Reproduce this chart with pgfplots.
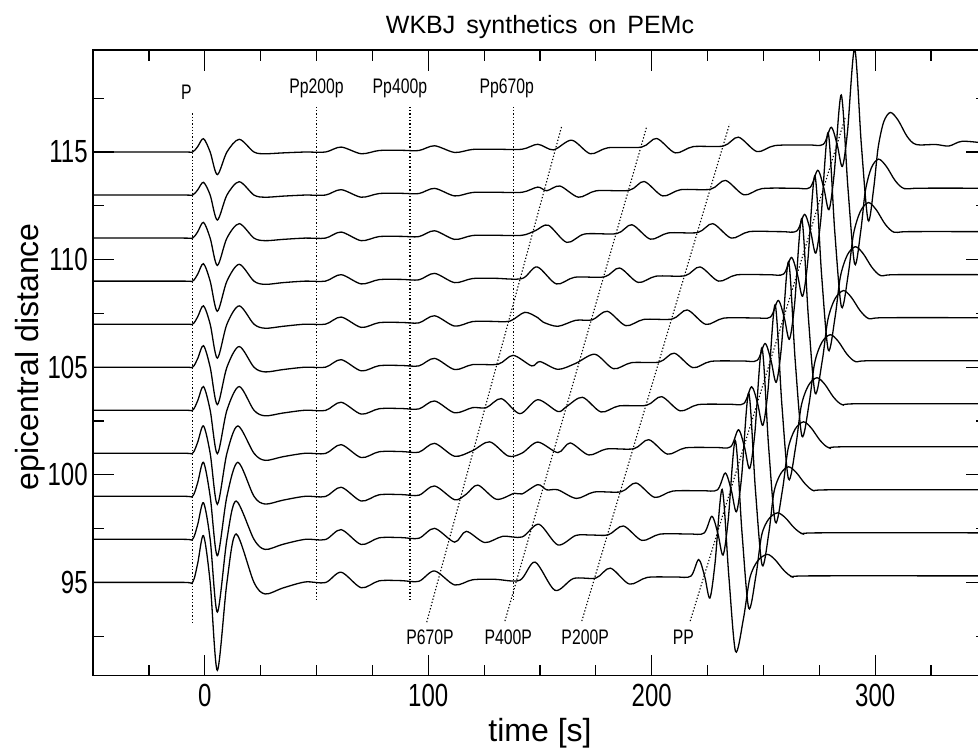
\documentclass[border=0pt]{standalone}
\usepackage{fontspec}
\setmainfont{Liberation Sans}
\newfontfamily\numfont{Liberation Sans}[FakeStretch=0.75]
\usepackage{pgfplots}
\pgfplotsset{compat=1.18}
\begin{document}
\begin{tikzpicture}
\begin{axis}[
  scale only axis, width=446.6pt, height=312.5pt,
  xmin=-50, xmax=350, ymin=90.67, ymax=119.74,
  clip mode=individual,
  xtick={0,100,200,300},
  minor xtick={-25,25,50,75,125,150,175,225,250,275,325},
  ytick={95,100,105,110,115},
  minor ytick={92.5,97.5,102.5,107.5,112.5,117.5},
  major tick length=10.5pt, minor tick length=5.5pt,
  tick style={black, line width=0.6pt},
  axis line style={line width=0.65pt},
  /pgf/number format/assume math mode=true,
  ticklabel style={font=\numfont\fontsize{16}{16}\selectfont},
  xticklabel style={anchor=center, yshift=-10pt},
  yticklabel style={anchor=east, inner sep=0pt, xshift=-2.5pt},
  every axis plot/.append style={black, line width=0.65pt},
]
% marker lines
\addplot[densely dotted, line width=0.55pt] coordinates {(-5.5,116.8) (-5.5,93.1)};
\addplot[densely dotted, line width=0.55pt] coordinates {(50,117.1) (50,94.1)};
\addplot[densely dotted, line width=0.55pt] coordinates {(91.8,117.1) (91.8,94.1)};
\addplot[densely dotted, line width=0.55pt] coordinates {(138,117.1) (138,94.1)};
\addplot[densely dotted, line width=0.55pt] coordinates {(99.3,93.15) (159.7,116.2)};
\addplot[densely dotted, line width=0.55pt] coordinates {(134.3,93.2) (197.8,116.2)};
\addplot[densely dotted, line width=0.55pt] coordinates {(168.7,93.2) (234.8,116.3)};
\addplot[densely dotted, line width=0.55pt] coordinates {(217.2,93.2) (286.6,116.6)};
% traces
\addplot[smooth, tension=0.5] coordinates {(-50,95) (-10,95) (-5.5,95) (-3.2,95.87) (-0.6,97.17) (2.4,95) (5.6,90.91) (9.9,95) (14,97.25) (22,95) (27,94.46) (35,94.74) (45,95.02) (54,94.99) (61,95.47) (70,94.75) (78,95.07) (88,95.08) (95.8,95.05) (102.8,95.53) (111.8,94.88) (119.8,95.12) (130,95.14) (141,95.10) (147.8,95.94) (156.7,94.63) (165,95.18) (175,95.20) (181.5,95.66) (190,94.92) (198,95.23) (210.5,95.25) (217.5,95.29) (221,96.06) (223.7,95.27) (226,94.27) (228.3,95.87) (231.5,99.32) (234.5,95.28) (237.5,91.79) (241,93.29) (243.9,95.2) (247.4,96.0) (251.7,96.3) (255.2,96.05) (259.2,95.55) (263.2,95.25) (270,95.3) (350,95.3)};
\addplot[smooth, tension=0.5] coordinates {(-50,97) (-10,97) (-5.5,97) (-3.2,97.68) (-0.6,98.7) (2.4,97) (5.6,93.62) (9.9,97) (14,98.78) (22,97) (27,96.53) (35,96.77) (45,97) (54,96.99) (61,97.45) (70,96.76) (78,97.07) (88,97.08) (95.8,97.05) (102.8,97.51) (111.8,96.87) (117,97.37) (125.3,96.85) (133.3,97.14) (142,97.11) (149.5,97.7) (158,96.74) (166,97.18) (173,97.2) (180.6,97.21) (187.3,97.62) (195.6,96.95) (203.6,97.24) (216.4,97.25) (223.4,97.29) (226.9,98.07) (229.6,97.27) (231.9,96.27) (234.2,97.88) (237.4,101.59) (240.4,97.29) (243.4,93.8) (246.6,95.3) (249.2,97.2) (252.4,97.95) (256.3,98.23) (259.8,98.0) (263.8,97.53) (267.8,97.25) (274.3,97.3) (350,97.3)};
\addplot[smooth, tension=0.5] coordinates {(-50,99) (-10,99) (-5.5,99) (-3.2,99.63) (-0.6,100.58) (2.4,99) (5.6,96.24) (9.9,99) (14.8,100.58) (22,99) (27,98.64) (35,98.82) (45,99) (54,98.99) (61,99.42) (70,98.78) (78,99.07) (88,99.08) (95.8,99.05) (102.8,99.48) (111.8,98.84) (117,99.1) (122.2,99.52) (130.5,98.86) (138.5,99.14) (142,99.11) (149,99.54) (153,99.3) (158,99.3) (166.3,98.9) (174.3,99.2) (186.3,99.21) (193,99.62) (201.3,98.95) (209.3,99.24) (222.4,99.26) (229.4,99.3) (232.9,100.08) (235.6,99.28) (237.9,98.28) (240.2,99.89) (243.4,103.79) (246.4,99.29) (249.4,95.8) (252.4,97.3) (254.7,99.2) (257.7,100.05) (261.2,100.37) (264.7,100.1) (268.7,99.57) (272.7,99.25) (279.2,99.3) (350,99.3)};
\addplot[smooth, tension=0.5] coordinates {(-50,101) (-10,101) (-5.5,101) (-3.2,101.51) (-0.6,102.27) (2.4,101) (5.6,98.63) (9.9,101) (14.8,102.27) (22,101) (27,100.67) (35,100.84) (45,101) (54,100.99) (61,101.4) (70,100.8) (78,101.07) (88,101.08) (95.8,101.05) (102.8,101.46) (111.8,100.86) (119.8,101.12) (127.5,101.53) (135.8,100.87) (142,101.01) (149,101.52) (158,101.03) (163.5,101.48) (171.8,100.92) (179.8,101.2) (192,101.21) (198.7,101.63) (207,100.96) (215,101.25) (228.3,101.27) (235.3,101.3) (238.8,102.09) (241.5,101.29) (243.8,100.29) (246.1,101.9) (249.3,105.9) (252.3,101.3) (255.3,97.8) (258.5,99.3) (261,101.2) (264.1,102.11) (267.9,102.46) (271.4,102.17) (275.4,101.59) (279.4,101.25) (286,101.3) (350,101.3)};
\addplot[smooth, tension=0.5] coordinates {(-50,103) (-10,103) (-5.5,103) (-3.2,103.44) (-0.6,104.1) (2.4,103) (5.6,100.98) (9.9,103) (15.4,104.1) (22,103) (27,102.74) (35,102.87) (45,103) (54,102.99) (61,103.37) (70,102.82) (78,103.07) (88,103.08) (95.8,103.06) (102.8,103.43) (111.8,102.88) (119.8,103.12) (126,103.12) (132.7,103.54) (141,102.84) (149,103.49) (158,102.94) (162,103.18) (169,103.6) (177.3,102.92) (185.3,103.2) (197.7,103.23) (204.4,103.63) (212.7,102.97) (220.7,103.26) (234.2,103.28) (241.2,103.31) (244.7,104.09) (247.4,103.3) (249.7,102.3) (252,103.9) (255.2,107.9) (258.2,103.3) (261.2,99.8) (264.4,101.3) (266.9,103.2) (270.1,104.15) (273.9,104.51) (277.4,104.21) (281.4,103.6) (285.4,103.25) (292,103.3) (350,103.3)};
\addplot[smooth, tension=0.5] coordinates {(-50,105) (-10,105) (-5.5,105) (-3.2,105.4) (-0.6,106) (2.4,105) (5.6,103.26) (9.9,105) (15.4,105.96) (22,105) (27,104.78) (35,104.89) (45,105) (54,105) (61,105.35) (70,104.83) (78,105.07) (88,105.08) (95.8,105.06) (102.8,105.41) (111.8,104.89) (119.8,105.12) (131.3,105.14) (138,105.55) (146.3,105.06) (150,105.26) (158,104.9) (166,105.18) (174.6,105.6) (182.9,104.93) (190.9,105.21) (203.4,105.24) (210.1,105.65) (218.4,104.98) (226.4,105.27) (240.2,105.29) (247.2,105.32) (250.7,106.1) (253.4,105.3) (255.7,104.3) (258,105.9) (261.2,109.9) (264.2,105.3) (267.2,101.8) (270.4,103.3) (272.9,105.2) (276.1,106.15) (279.9,106.51) (283.4,106.21) (287.4,105.6) (291.4,105.25) (298,105.3) (350,105.3)};
\addplot[smooth, tension=0.5] coordinates {(-50,107) (-10,107) (-5.5,107) (-3.2,107.34) (-0.6,107.85) (2.4,107) (5.6,105.42) (9.9,107) (15.4,107.85) (22,107) (27,106.81) (35,106.9) (45,107) (54,107) (61,107.33) (70,106.85) (78,107.07) (88,107.08) (95.8,107.06) (102.8,107.39) (111.8,106.91) (119.8,107.12) (128,107.13) (136.5,107.14) (143.2,107.55) (149,107.3) (151.5,107.09) (158,106.9) (166,107.18) (173.4,107.2) (180.1,107.6) (188.4,106.93) (196.4,107.22) (209.2,107.24) (215.9,107.66) (224.2,106.99) (232.2,107.28) (246.1,107.29) (253.1,107.33) (256.6,108.1) (259.3,107.3) (261.6,106.3) (263.9,107.9) (267.1,111.9) (270.1,107.3) (273.1,103.8) (276.3,105.3) (278.8,107.2) (282,108.18) (285.8,108.56) (289.3,108.25) (293.3,107.62) (297.3,107.25) (304,107.3) (350,107.3)};
\addplot[smooth, tension=0.5] coordinates {(-50,109) (-10,109) (-5.5,109) (-3.2,109.32) (-0.6,109.81) (2.4,109) (5.6,107.6) (9.9,109) (15.4,109.78) (22,109) (27,108.85) (35,108.93) (45,109) (54,109) (61,109.3) (70,108.87) (78,109.07) (88,109.08) (95.8,109.06) (102.8,109.36) (111.8,108.93) (119.8,109.12) (130,109.13) (142,109.12) (148.7,109.66) (157.3,108.87) (165.5,109.18) (178.9,109.2) (185.6,109.61) (193.9,108.94) (201.9,109.23) (214.9,109.25) (221.6,109.66) (229.9,109) (237.9,109.29) (252,109.3) (259,109.33) (262.5,110.1) (265.2,109.3) (267.5,108.3) (269.8,109.9) (273,113.9) (276,109.3) (279,105.8) (282,107.3) (284.4,109.2) (287.5,110.21) (291.1,110.6) (294.6,110.28) (298.6,109.63) (302.6,109.25) (309,109.3) (350,109.3)};
\addplot[smooth, tension=0.5] coordinates {(-50,111) (-10,111) (-5.5,111) (-3.2,111.29) (-0.6,111.73) (2.4,111) (5.6,109.73) (9.9,111) (15.4,111.67) (22,111) (27,110.88) (35,110.94) (45,111) (54,111) (61,111.28) (70,110.88) (78,111.07) (88,111.08) (95.8,111.07) (102.8,111.34) (111.8,110.94) (119.8,111.12) (130,111.13) (142,111.13) (148,111.35) (153.7,111.6) (162,110.8) (170,111.19) (184.4,111.21) (191.1,111.62) (199.4,110.95) (207.4,111.24) (220.6,111.26) (227.3,111.67) (235.6,111.0) (243.6,111.3) (257.9,111.3) (264.9,111.33) (268.4,112.1) (271.1,111.3) (273.4,110.3) (275.7,111.9) (278.9,115.9) (281.9,111.3) (284.9,107.8) (287.9,109.3) (290.3,111.2) (293.4,112.25) (297,112.65) (300.5,112.31) (304.5,111.64) (308.5,111.27) (315,111.3) (350,111.3)};
\addplot[smooth, tension=0.5] coordinates {(-50,113) (-10,113) (-5.5,113) (-3.2,113.24) (-0.6,113.59) (2.4,113) (5.6,111.84) (9.9,113) (15.4,113.62) (22,113) (27,112.9) (35,112.95) (45,113) (54,113) (61,113.25) (70,112.9) (78,113.07) (88,113.08) (95.8,113.07) (102.8,113.31) (111.8,112.96) (119.8,113.12) (130,113.13) (142,113.13) (149,113.37) (153,113.2) (158.9,113.42) (167.2,112.9) (175.2,113.2) (189.9,113.22) (196.6,113.63) (204.9,112.96) (212.9,113.25) (226.3,113.27) (233,113.68) (241.3,113.01) (249.3,113.3) (263.8,113.32) (270.8,113.35) (274.3,114.15) (277,113.32) (279.3,112.32) (281.6,113.95) (284.8,117.65) (287.8,113.32) (290.8,109.8) (293.5,111.3) (295.6,113.2) (298.3,114.27) (301.5,114.67) (305,114.33) (309,113.66) (313,113.3) (320,113.32) (350,113.32)};
\addplot[smooth, tension=0.5] coordinates {(-50,115) (-10,115) (-5.5,115) (-3.2,115.25) (-0.6,115.62) (2.4,115) (5.6,113.95) (9.9,115) (15.4,115.59) (22,115) (27,114.92) (35,114.96) (45,115) (54,115) (61,115.23) (70,114.92) (78,115.07) (88,115.08) (95.8,115.07) (102.8,115.29) (111.8,114.98) (119.8,115.12) (130,115.13) (142,115.13) (149,115.36) (156,115.1) (164.2,115.55) (172.5,114.92) (180.5,115.2) (195.5,115.23) (202.2,115.63) (210.5,114.96) (218.5,115.25) (232.1,115.28) (238.8,115.69) (247.1,115.02) (255.1,115.3) (269.8,115.33) (276.8,115.36) (280.3,116.15) (283,115.33) (285.3,114.33) (287.6,115.95) (290.8,119.8) (293.8,115.33) (296.8,111.83) (299.3,113.3) (301.3,115.2) (303.8,116.4) (306.8,116.84) (310.3,116.47) (314.3,115.72) (318.3,115.35) (327,115.35) (333,115.28) (339,115.5) (350,115.4)};
% labels
\node[font=\numfont\fontsize{10.5}{10.5}\selectfont] at (axis cs:-8.2,117.8) {P};
\node[font=\numfont\fontsize{10.5}{10.5}\selectfont] at (axis cs:50,117.96) {Pp200p};
\node[font=\numfont\fontsize{10.5}{10.5}\selectfont] at (axis cs:87.3,117.96) {Pp400p};
\node[font=\numfont\fontsize{10.5}{10.5}\selectfont] at (axis cs:135.1,117.96) {Pp670p};
\node[font=\numfont\fontsize{10.5}{10.5}\selectfont] at (axis cs:100.8,92.46) {P670P};
\node[font=\numfont\fontsize{10.5}{10.5}\selectfont] at (axis cs:135.8,92.46) {P400P};
\node[font=\numfont\fontsize{10.5}{10.5}\selectfont] at (axis cs:170.2,92.46) {P200P};
\node[font=\numfont\fontsize{10.5}{10.5}\selectfont] at (axis cs:214.2,92.46) {PP};
\end{axis}
\node[anchor=base, yshift=8.5pt, font=\fontsize{12.5}{12.5}\selectfont] at (current axis.north) {WKBJ\hspace{2pt} synthetics\hspace{2pt} on\hspace{2pt} PEMc};
\node[rotate=90, xshift=3pt, yshift=31.5pt, font=\fontsize{16}{16}\selectfont] at (current axis.west) {epicentral distance};
\node[yshift=-29pt, font=\fontsize{16}{16}\selectfont] at (current axis.south) {time [s]};
\pgfresetboundingbox
\path[use as bounding box] ([shift={(-46.5pt,-38pt)}]current axis.south west) rectangle ([shift={(-4.47pt,25pt)}]current axis.north east);
\end{tikzpicture}
\end{document}
